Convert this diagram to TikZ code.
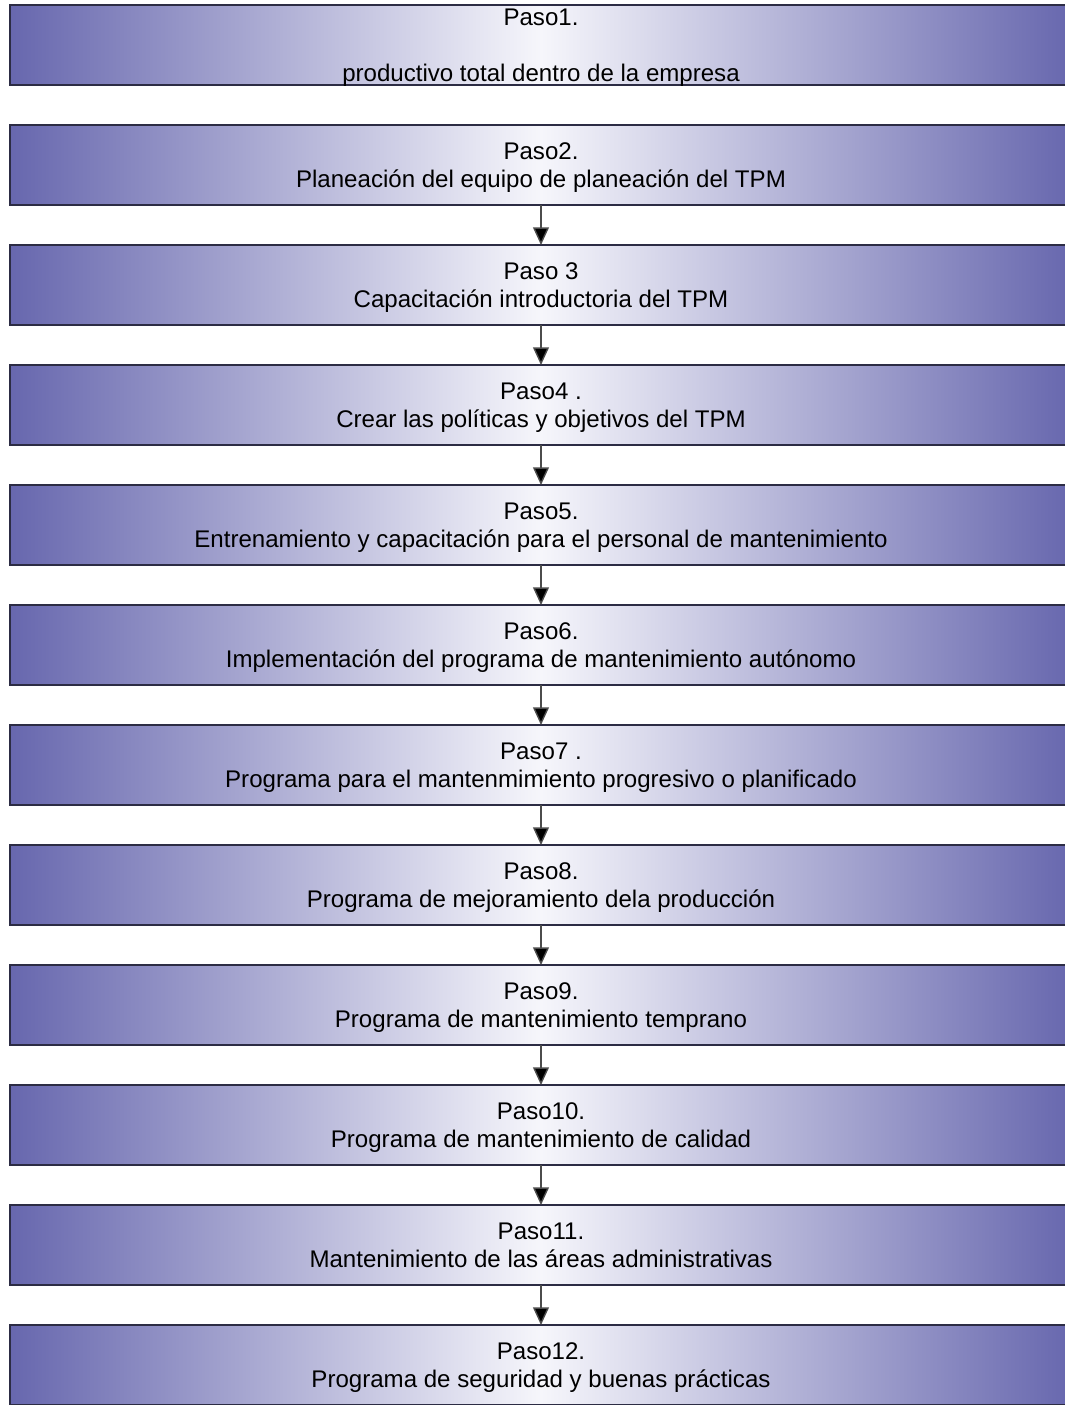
\documentclass[tikz,border=0pt]{standalone}
\usepackage{fontspec}
\setmainfont{Liberation Sans}
\usepackage{xcolor}
\usetikzlibrary{positioning,arrows.meta}

\definecolor{pasoborde}{HTML}{6767AE}
\definecolor{pasocentro}{HTML}{F6F6FB}
\definecolor{pasolinea}{HTML}{2C2C44}

\tikzset{
  paso/.style={draw=pasolinea, line width=0.9pt, outer sep=0pt,
    minimum width=21.24cm, minimum height=1.6cm,
    left color=pasoborde, right color=pasoborde, middle color=pasocentro,
    align=center, font=\fontsize{13.7}{15.9}\selectfont, inner sep=0pt,
    text depth=0pt},
  flecha/.style={draw=black!70, line width=0.8pt,
    -{Triangle[width=9pt,length=10pt,fill=black]}}
}

\begin{document}
\begin{tikzpicture}[node distance=0.8cm]
    \clip (0,0) rectangle (21.3,-28.1);

    \node[paso] (p1) at (10.82,-0.9)
      {Paso1.\\ \strut\\ productivo total dentro de la empresa};
    \node[paso, below=of p1] (p2)
      {Paso2.\\ Planeación del equipo de planeación del TPM};
    \node[paso, below=of p2] (p3)
      {Paso 3\\ Capacitación introductoria del TPM};
    \node[paso, below=of p3] (p4)
      {Paso4 .\\ Crear las políticas y objetivos del TPM};
    \node[paso, below=of p4] (p5)
      {Paso5.\\ Entrenamiento y capacitación para el personal de mantenimiento};
    \node[paso, below=of p5] (p6)
      {Paso6.\\ Implementación del programa de mantenimiento autónomo};
    \node[paso, below=of p6] (p7)
      {Paso7 .\\ Programa para el mantenmimiento progresivo o planificado};
    \node[paso, below=of p7] (p8)
      {Paso8.\\ Programa de mejoramiento dela producción};
    \node[paso, below=of p8] (p9)
      {Paso9.\\ Programa de mantenimiento temprano};
    \node[paso, below=of p9] (p10)
      {Paso10.\\ Programa de mantenimiento de calidad};
    \node[paso, below=of p10] (p11)
      {Paso11.\\ Mantenimiento de las áreas administrativas};
    \node[paso, below=of p11] (p12)
      {Paso12.\\ Programa de seguridad y buenas prácticas};

    % flechas entre pasos (del 2 en adelante)
    \foreach \a/\b in {p2/p3,p3/p4,p4/p5,p5/p6,p6/p7,p7/p8,p8/p9,p9/p10,p10/p11,p11/p12}
      \draw[flecha] (\a.south) -- (\b.north);
\end{tikzpicture}
\end{document}
